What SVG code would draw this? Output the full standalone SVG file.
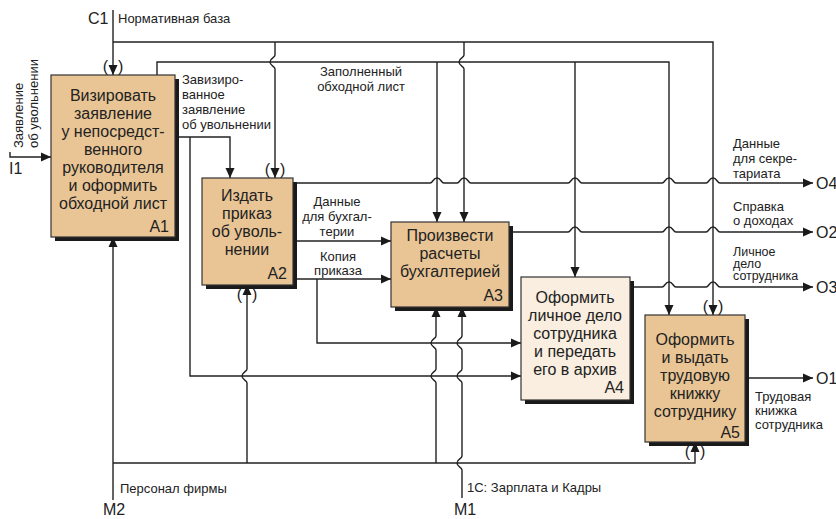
<svg xmlns="http://www.w3.org/2000/svg" width="836" height="519" viewBox="0 0 836 519">
<defs>
<marker id="ah" viewBox="0 0 10 10" refX="10" refY="5" markerWidth="10" markerHeight="10" markerUnits="userSpaceOnUse" orient="auto">
<path d="M0,0.5 L10,5 L0,9.5 Z" fill="#1a1a1a"/>
</marker>
<style>
.ln{fill:none;stroke:#222;stroke-width:1.4}
.box{stroke:#333;stroke-width:1.2}
.shd{fill:#1a1a1a}
.act{fill:#E9C595}
.act4{fill:#F9EEDF}
.t{font-family:"Liberation Sans",Arial,sans-serif;font-size:16px;fill:#222}
.c{text-anchor:middle}
.e{text-anchor:end}
.s{font-family:"Liberation Sans",Arial,sans-serif;font-size:13px;fill:#222}
.s2{font-family:"Liberation Sans",Arial,sans-serif;font-size:12.5px;fill:#222}
</style>
</defs>
<rect width="836" height="519" fill="#fff"/>

<g id="connectors">
<!-- C1 -->
<path class="ln" d="M113,10 V75" marker-end="url(#ah)"/>
<path class="ln" d="M113,42 H713 V315" marker-end="url(#ah)"/>
<path class="ln" d="M275,42 V55 C275,58 270,58 270,62 C270,66 275,66 275,69 V178" marker-end="url(#ah)"/>
<path class="ln" d="M464,42 V55 C464,58 459,58 459,62 C459,66 464,66 464,69 V222" marker-end="url(#ah)"/>
<!-- Filled checklist -->
<path class="ln" d="M157,75 V62 H669 V315" marker-end="url(#ah)"/>
<path class="ln" d="M437,62 V222" marker-end="url(#ah)"/>
<path class="ln" d="M575,62 V277" marker-end="url(#ah)"/>
<!-- A1 to A2 / A4 -->
<path class="ln" d="M175,137 H230 V178" marker-end="url(#ah)"/>
<path class="ln" d="M190,137 V376 H521" marker-end="url(#ah)"/>
<!-- A2 to A3 -->
<path class="ln" d="M293,241 H391" marker-end="url(#ah)"/>
<path class="ln" d="M293,279 H391" marker-end="url(#ah)"/>
<path class="ln" d="M317,279 V343 H521" marker-end="url(#ah)"/>
<!-- A2 to O4 -->
<path class="ln" d="M293,183 H430 C433,183 433,178 437,178 C441,178 441,183 444,183 H457 C460,183 460,178 464,178 C468,178 468,183 471,183 H568 C571,183 571,178 575,178 C579,178 579,183 582,183 H662 C665,183 665,178 669,178 C673,178 673,183 676,183 H706 C709,183 709,178 713,178 C717,178 717,183 720,183 H813" marker-end="url(#ah)"/>
<!-- A3 to O2 -->
<path class="ln" d="M509,232 H568 C571,232 571,227 575,227 C579,227 579,232 582,232 H662 C665,232 665,227 669,227 C673,227 673,232 676,232 H706 C709,232 709,227 713,227 C717,227 717,232 720,232 H813" marker-end="url(#ah)"/>
<!-- A4 to O3 -->
<path class="ln" d="M630,287 H662 C665,287 665,282 669,282 C673,282 673,287 676,287 H706 C709,287 709,282 713,282 C717,282 717,287 720,287 H813" marker-end="url(#ah)"/>
<!-- A5 to O1 -->
<path class="ln" d="M745,378 H813" marker-end="url(#ah)"/>
<!-- I1 -->
<path class="ln" d="M10,152 V157 H51" marker-end="url(#ah)"/>
<!-- M2 -->
<path class="ln" d="M113,500 V237" marker-end="url(#ah)"/>
<path class="ln" d="M113,463 H695 V442" marker-end="url(#ah)"/>
<path class="ln" d="M247,463 V383 C247,380 242,380 242,376 C242,372 247,372 247,369 V285" marker-end="url(#ah)"/>
<path class="ln" d="M436,463 V383 C436,380 431,380 431,376 C431,372 436,372 436,369 V350 C436,347 431,347 431,343 C431,339 436,339 436,336 V307" marker-end="url(#ah)"/>
<!-- M1 -->
<path class="ln" d="M462,498 V470 C462,467 457,467 457,463 C457,459 462,459 462,456 V383 C462,380 457,380 457,376 C457,372 462,372 462,369 V350 C462,347 457,347 457,343 C457,339 462,339 462,336 V307" marker-end="url(#ah)"/>
<!-- tunnel parentheses -->
<text class="t e" x="108" y="72">(</text><text class="t" x="118" y="72">)</text>
<text class="t e" x="270" y="175">(</text><text class="t" x="280" y="175">)</text>
<text class="t e" x="708" y="312">(</text><text class="t" x="718" y="312">)</text>
<text class="t e" x="242" y="300">(</text><text class="t" x="252" y="300">)</text>
<text class="t e" x="690" y="457">(</text><text class="t" x="700" y="457">)</text>
</g>

<g id="A1">
<rect class="shd" x="55" y="79" width="124" height="162"/>
<rect class="box act" x="51" y="75" width="124" height="162"/>
<text class="t c" x="113" y="101">Визировать</text>
<text class="t c" x="113" y="119">заявление</text>
<text class="t c" x="113" y="137">у непосредст-</text>
<text class="t c" x="113" y="155">венного</text>
<text class="t c" x="113" y="173">руководителя</text>
<text class="t c" x="113" y="191">и оформить</text>
<text class="t c" x="113" y="209">обходной лист</text>
<text class="t e" x="169" y="232">A1</text>
</g>

<g id="A2">
<rect class="shd" x="206" y="182" width="91" height="107"/>
<rect class="box act" x="202" y="178" width="91" height="107"/>
<text class="t c" x="247" y="201">Издать</text>
<text class="t c" x="247" y="219">приказ</text>
<text class="t c" x="247" y="237">об уволь-</text>
<text class="t c" x="247" y="255">нении</text>
<text class="t e" x="287" y="279">A2</text>
</g>

<g id="A3">
<rect class="shd" x="395" y="226" width="118" height="85"/>
<rect class="box act" x="391" y="222" width="118" height="85"/>
<text class="t c" x="450" y="241">Произвести</text>
<text class="t c" x="450" y="259">расчеты</text>
<text class="t c" x="450" y="277">бухгалтерией</text>
<text class="t e" x="503" y="301">A3</text>
</g>

<g id="A4">
<rect class="shd" x="525" y="281" width="109" height="123"/>
<rect class="box act4" x="521" y="277" width="109" height="123"/>
<text class="t c" x="575" y="303">Оформить</text>
<text class="t c" x="575" y="321">личное дело</text>
<text class="t c" x="575" y="339">сотрудника</text>
<text class="t c" x="575" y="357">и передать</text>
<text class="t c" x="575" y="375">его в архив</text>
<text class="t e" x="624" y="393">A4</text>
</g>

<g id="A5">
<rect class="shd" x="649" y="319" width="100" height="127"/>
<rect class="box act" x="645" y="315" width="100" height="127"/>
<text class="t c" x="695" y="345">Оформить</text>
<text class="t c" x="695" y="363">и выдать</text>
<text class="t c" x="695" y="381">трудовую</text>
<text class="t c" x="695" y="399">книжку</text>
<text class="t c" x="695" y="417">сотруднику</text>
<text class="t e" x="740" y="438">A5</text>
</g>

<g id="labels">
<text class="t" x="88" y="24">C1</text>
<text class="s" x="118" y="23">Нормативная база</text>
<text class="t" x="9" y="174">I1</text>
<text class="s" transform="translate(23,148) rotate(-90)">Заявление</text>
<text class="s" transform="translate(38,148) rotate(-90)">об увольнении</text>
<text class="s" x="182" y="84">Завизиро-</text>
<text class="s" x="182" y="99">ванное</text>
<text class="s" x="182" y="114">заявление</text>
<text class="s" x="182" y="129">об увольнении</text>
<text class="s c" x="361" y="76">Заполненный</text>
<text class="s c" x="361" y="91">обходной лист</text>
<text class="s c" x="337" y="206">Данные</text>
<text class="s c" x="337" y="221">для бухгал-</text>
<text class="s c" x="337" y="236">терии</text>
<text class="s c" x="338" y="261">Копия</text>
<text class="s c" x="338" y="275">приказа</text>
<text class="s" x="733" y="148">Данные</text>
<text class="s" x="733" y="163">для секре-</text>
<text class="s" x="733" y="178">тариата</text>
<text class="s" x="733" y="211">Справка</text>
<text class="s" x="733" y="225">о доходах</text>
<text class="s2" x="733" y="256">Личное</text>
<text class="s2" x="733" y="268">дело</text>
<text class="s2" x="733" y="280">сотрудника</text>
<text class="s" x="755" y="401">Трудовая</text>
<text class="s" x="755" y="415">книжка</text>
<text class="s" x="755" y="429">сотрудника</text>
<text class="t" x="816" y="189">O4</text>
<text class="t" x="816" y="238">O2</text>
<text class="t" x="816" y="293">O3</text>
<text class="t" x="816" y="384">O1</text>
<text class="s" x="120" y="493">Персонал фирмы</text>
<text class="t" x="103" y="515">M2</text>
<text class="s" x="467" y="492">1С: Зарплата и Кадры</text>
<text class="t" x="454" y="515">M1</text>
</g>
</svg>
